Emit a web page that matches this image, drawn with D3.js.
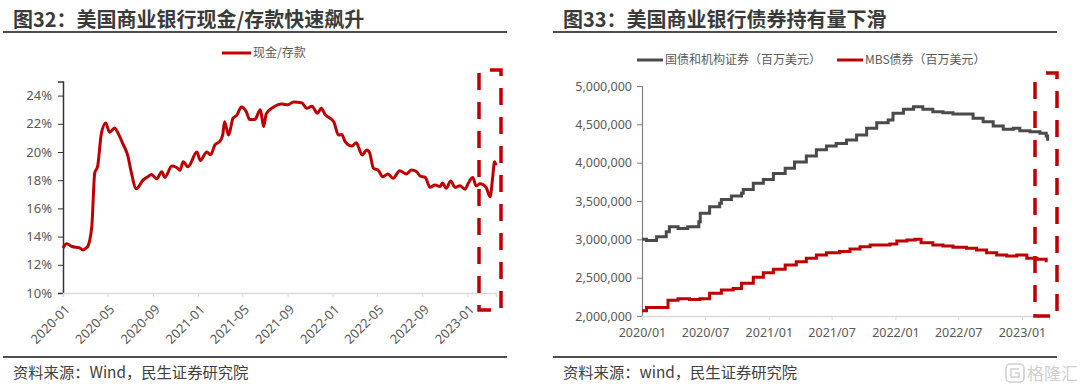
<!DOCTYPE html>
<html>
<head>
<meta charset="utf-8">
<script src="https://cdn.jsdelivr.net/npm/d3@7"></script>
<style>
  body { margin: 0; background: #fff; }
  svg { display: block; font-family: "Noto Sans CJK SC", "Noto Sans", sans-serif; }
</style>
</head>
<body>
<div class="chartdiv"></div>
<script>
const WIDTH = 1080, HEIGHT = 388;
const RED = "#c00000", GREY = "#4a4a4a", TEXT = "#595959";

// left chart: cash / deposits (%)
const cashDates = ["2020-01-01","2020-01-11","2020-01-25","2020-02-15","2020-02-24","2020-03-04","2020-03-08","2020-03-19","2020-03-27","2020-04-04","2020-04-14","2020-04-26","2020-05-06","2020-05-20","2020-05-28","2020-06-11","2020-06-25","2020-07-03","2020-07-18","2020-08-05","2020-08-18","2020-08-28","2020-09-11","2020-09-25","2020-10-03","2020-10-22","2020-11-04","2020-11-13","2020-11-22","2020-12-05","2020-12-29","2021-01-07","2021-01-25","2021-02-04","2021-02-16","2021-03-01","2021-03-09","2021-03-14","2021-03-25","2021-04-06","2021-04-16","2021-04-29","2021-05-12","2021-05-21","2021-06-04","2021-06-19","2021-06-28","2021-07-05","2021-07-23","2021-08-16","2021-09-02","2021-09-17","2021-10-09","2021-10-23","2021-11-06","2021-11-21","2021-12-01","2021-12-12","2022-01-04","2022-01-17","2022-01-26","2022-02-04","2022-02-22","2022-03-06","2022-03-22","2022-04-04","2022-04-11","2022-04-22","2022-05-04","2022-05-17","2022-05-31","2022-06-14","2022-07-02","2022-07-20","2022-08-03","2022-08-17","2022-08-26","2022-09-09","2022-09-22","2022-10-06","2022-10-19","2022-10-26","2022-11-05","2022-11-17","2022-11-29","2022-12-12","2022-12-26","2023-01-04","2023-01-16","2023-01-25","2023-02-05","2023-02-21","2023-03-04","2023-03-11","2023-03-16","2023-03-20"];
const cashRatio = [13.2,13.5,13.3,13.2,13.05,13.2,13.3,14.7,18.5,19.0,21.3,22.05,21.4,21.7,21.4,20.6,19.7,18.7,17.4,18.0,18.25,18.4,18.1,18.6,18.2,19.0,18.9,18.7,19.3,18.95,20.0,19.4,20.0,19.8,20.5,20.75,21.2,22.15,21.2,22.4,22.6,23.2,22.85,22.3,22.3,23.0,21.8,22.7,23.15,23.4,23.35,23.55,23.5,23.1,23.25,22.75,23.1,22.65,22.15,21.2,21.25,20.73,20.42,20.66,19.79,20.15,19.96,18.84,18.72,18.25,18.44,18.13,18.67,18.44,18.72,18.6,18.3,18.2,17.5,17.66,17.55,17.8,17.43,17.95,17.5,17.6,17.36,17.8,18.2,17.6,17.74,17.5,16.83,18.2,19.3,19.05];
const leftTickDates = ["2020-01-01","2020-05-01","2020-09-01","2021-01-01","2021-05-01","2021-09-01","2022-01-01","2022-05-01","2022-09-01","2023-01-01"];
const leftTickLabels = ["2020-01","2020-05","2020-09","2021-01","2021-05","2021-09","2022-01","2022-05","2022-09","2023-01"];
const leftYTicks = [10, 12, 14, 16, 18, 20, 22, 24];

// right chart: bond holdings (million USD)
const treasuryDates = ["2020-01-01","2020-01-14","2020-02-12","2020-03-11","2020-03-20","2020-04-14","2020-05-12","2020-06-13","2020-06-17","2020-07-14","2020-08-12","2020-08-17","2020-09-15","2020-10-14","2020-10-19","2020-11-17","2020-12-16","2021-01-14","2021-02-17","2021-03-16","2021-04-19","2021-05-18","2021-06-16","2021-07-14","2021-08-13","2021-09-11","2021-10-10","2021-11-08","2021-12-11","2021-12-25","2022-01-24","2022-02-22","2022-03-21","2022-04-19","2022-05-18","2022-06-16","2022-07-15","2022-08-13","2022-09-11","2022-10-10","2022-11-08","2022-12-07","2022-12-26","2023-01-24","2023-02-22","2023-03-12","2023-03-16"];
const treasury = [3000000,2985000,3034000,3100000,3165000,3140000,3165000,3230000,3340000,3426000,3470000,3520000,3565000,3600000,3650000,3730000,3780000,3860000,3926000,4010000,4087000,4170000,4217000,4250000,4296000,4360000,4448000,4520000,4556000,4644000,4696000,4730000,4696000,4665000,4652000,4635000,4635000,4578000,4535000,4478000,4435000,4448000,4417000,4404000,4383000,4348000,4287000];
const mbsDates = ["2020-01-01","2020-01-14","2020-02-12","2020-03-16","2020-04-14","2020-05-17","2020-06-16","2020-07-14","2020-08-17","2020-09-20","2020-10-14","2020-11-17","2020-12-16","2021-01-14","2021-02-17","2021-03-21","2021-04-19","2021-05-18","2021-06-16","2021-07-24","2021-08-23","2021-09-21","2021-10-20","2021-11-18","2021-12-16","2022-01-05","2022-02-03","2022-02-27","2022-03-16","2022-04-19","2022-05-18","2022-06-16","2022-07-25","2022-08-23","2022-09-21","2022-10-20","2022-11-18","2022-12-17","2023-01-15","2023-02-13","2023-03-12","2023-03-16"];
const mbs = [2070000,2110000,2110000,2205000,2225000,2215000,2225000,2296000,2340000,2360000,2426000,2505000,2565000,2610000,2665000,2708000,2752000,2795000,2826000,2840000,2874000,2904000,2926000,2926000,2940000,2978000,2991000,3000000,2956000,2926000,2913000,2896000,2883000,2860000,2826000,2795000,2783000,2795000,2752000,2740000,2720000,2720000];
const rightTickDates = ["2020-01-01","2020-07-01","2021-01-01","2021-07-01","2022-01-01","2022-07-01","2023-01-01"];
const rightTickLabels = ["2020/01","2020/07","2021/01","2021/07","2022/01","2022/07","2023/01"];
const rightYTicks = [2000000, 2500000, 3000000, 3500000, 4000000, 4500000, 5000000];

const parse = d3.timeParse("%Y-%m-%d");

var svg = d3
  .select(".chartdiv")
  .append("svg")
  .attr("width", WIDTH)
  .attr("height", HEIGHT);

// frame: title, rules, source
function frame(x0, x1, title, source) {
  svg.append("text")
    .attr("x", x0 + 10).attr("y", 27)
    .attr("font-size", 20).attr("font-weight", "bold")
    .attr("fill", "#3a3a3a")
    .text(title);
  svg.append("line")
    .attr("x1", x0).attr("x2", x1).attr("y1", 32).attr("y2", 32)
    .attr("stroke", "#4d4d4d").attr("stroke-width", 2);
  svg.append("line")
    .attr("x1", x0).attr("x2", x1).attr("y1", 357).attr("y2", 357)
    .attr("stroke", "#4d4d4d").attr("stroke-width", 2);
  svg.append("text")
    .attr("x", x0 + 10).attr("y", 378)
    .attr("font-size", 15.3).attr("fill", "#404040")
    .text(source);
}

function dashedBox(x, y, w, h) {
  svg.append("rect")
    .attr("x", x).attr("y", y).attr("width", w).attr("height", h)
    .attr("fill", "none")
    .attr("stroke", RED).attr("stroke-width", 3.5)
    .attr("stroke-dasharray", "17,12")
    .attr("stroke-dashoffset", 18);
}

frame(3, 507, "图32：美国商业银行现金/存款快速飙升", "资料来源：Wind，民生证券研究院");
frame(553, 1057, "图33：美国商业银行债券持有量下滑", "资料来源：wind，民生证券研究院");

// ---------- left chart ----------
const xL = d3.scaleTime()
  .domain([parse("2020-01-01"), parse("2023-03-20")])
  .range([63, 496]);
const yL = d3.scaleLinear().domain([10, 25]).range([293, 81.5]);

const gL = svg.append("g");

gL.append("g")
  .attr("transform", "translate(63,0)")
  .call(d3.axisLeft(yL).tickValues(leftYTicks).tickSize(5).tickPadding(6)
    .tickFormat(d => d + "%"))
  .call(g => g.selectAll("text").attr("font-size", 13).attr("fill", TEXT).attr("font-family", "Noto Sans, sans-serif"))
  .call(g => g.selectAll("line").attr("stroke", "#333"))
  .call(g => g.select(".domain").attr("stroke", "#333").attr("stroke-width", 1.5));

gL.append("g")
  .attr("transform", "translate(0,293)")
  .call(d3.axisBottom(xL).tickValues(leftTickDates.map(parse)).tickSize(4)
    .tickFormat((d, i) => leftTickLabels[i]))
  .call(g => g.select(".domain").attr("stroke", "#d9d9d9").attr("stroke-width", 1.5))
  .call(g => g.selectAll("line").attr("stroke", "#d9d9d9"))
  .call(g => g.selectAll("text")
    .attr("font-size", 13).attr("fill", TEXT).attr("font-family", "Noto Sans, sans-serif")
    .attr("text-anchor", "end")
    .attr("transform", "translate(4,14) rotate(-45)")
    .attr("dy", "0.35em").attr("y", 0).attr("x", 0));

gL.append("path")
  .datum(cashDates.map((d, i) => [parse(d), cashRatio[i]]))
  .attr("fill", "none")
  .attr("stroke", RED).attr("stroke-width", 3)
  .attr("stroke-linejoin", "round")
  .attr("d", d3.line().x(d => xL(d[0])).y(d => yL(d[1])).curve(d3.curveMonotoneX));

// legend
gL.append("line").attr("x1", 222).attr("x2", 251).attr("y1", 53).attr("y2", 53)
  .attr("stroke", RED).attr("stroke-width", 3);
gL.append("text").attr("x", 253).attr("y", 57).attr("font-size", 12).attr("fill", TEXT).text("现金/存款");

dashedBox(479, 70, 22, 240);

// ---------- right chart ----------
const xR = d3.scaleTime()
  .domain([parse("2020-01-01"), parse("2023-03-20")])
  .range([642, 1049]);
const yR = d3.scaleLinear().domain([2000000, 5000000]).range([316, 86]);

const gR = svg.append("g");

gR.append("g")
  .attr("transform", "translate(642,0)")
  .call(d3.axisLeft(yR).tickValues(rightYTicks).tickSize(5).tickPadding(5)
    .tickFormat(d3.format(",")))
  .call(g => g.selectAll("text").attr("font-size", 12.5).attr("fill", TEXT).attr("font-family", "Noto Sans, sans-serif"))
  .call(g => g.selectAll("line").attr("stroke", "#808080"))
  .call(g => g.select(".domain").attr("stroke", "#808080").attr("stroke-width", 1.2));

gR.append("g")
  .attr("transform", "translate(0,316)")
  .call(d3.axisBottom(xR).tickValues(rightTickDates.map(parse)).tickSize(4).tickPadding(8)
    .tickFormat((d, i) => rightTickLabels[i]))
  .call(g => g.select(".domain").attr("stroke", "#d9d9d9").attr("stroke-width", 1.5))
  .call(g => g.selectAll("line").attr("stroke", "#d9d9d9"))
  .call(g => g.selectAll("text").attr("font-size", 12.5).attr("fill", TEXT).attr("font-family", "Noto Sans, sans-serif"));

const stepLine = d3.line().x(d => xR(d[0])).y(d => yR(d[1])).curve(d3.curveStepAfter);

gR.append("path")
  .datum(treasuryDates.map((d, i) => [parse(d), treasury[i]]))
  .attr("fill", "none")
  .attr("stroke", GREY).attr("stroke-width", 3)
  .attr("d", stepLine);

gR.append("path")
  .datum(mbsDates.map((d, i) => [parse(d), mbs[i]]))
  .attr("fill", "none")
  .attr("stroke", RED).attr("stroke-width", 3)
  .attr("d", stepLine);

// legend
gR.append("line").attr("x1", 637).attr("x2", 663).attr("y1", 60).attr("y2", 60)
  .attr("stroke", GREY).attr("stroke-width", 3);
gR.append("text").attr("x", 665).attr("y", 64).attr("font-size", 12).attr("fill", TEXT).text("国债和机构证券（百万美元）");
gR.append("line").attr("x1", 837).attr("x2", 863).attr("y1", 60).attr("y2", 60)
  .attr("stroke", RED).attr("stroke-width", 3);
gR.append("text").attr("x", 865).attr("y", 64).attr("font-size", 12).attr("fill", TEXT).text("MBS债券（百万美元）");

dashedBox(1035, 73, 22, 243);

// watermark
const wm = svg.append("g").attr("fill", "none").attr("stroke", "#cfcfcf").attr("stroke-width", 1.5);
wm.append("rect").attr("x", 1006).attr("y", 364).attr("width", 18).attr("height", 18).attr("rx", 4);
wm.append("path").attr("d", "M1019,369 H1011 V377 H1019 V373 H1015");
svg.append("text").attr("x", 1027).attr("y", 380).attr("font-size", 17)
  .attr("fill", "#d0d0d0").text("格隆汇");
</script>
</body>
</html>
